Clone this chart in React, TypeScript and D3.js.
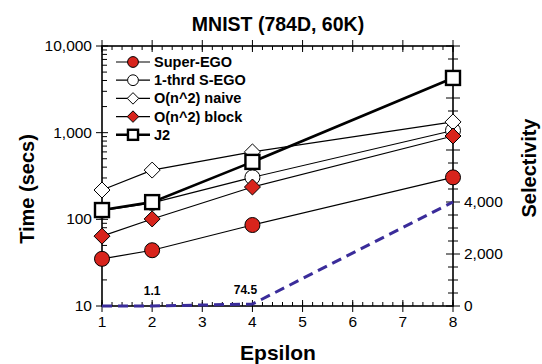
import * as d3 from "d3";

const width = 542;
const height = 364;
const margin = { top: 46, right: 89, bottom: 58, left: 102 };

// data
const epsilon = [1, 2, 4, 8];
const superEgo = [35, 44, 86, 305];
const sEgo1 = [126, 155, 305, 1060];
const naive = [218, 370, 600, 1330];
const block = [64, 101, 236, 915];
const j2 = [128, 158, 460, 4280];
const selectivity = [0, 1.1, 74.5, 4000];
const selLabels = ["1.1", "74.5"];

const red = "#d8241c";
const blue = "#3a2c9a";
const font = "'Liberation Sans', Arial, sans-serif";

type Series = { name: string; values: number[]; marker: string; fill: string; lw: number };

const series: Series[] = [
  { name: "Super-EGO", values: superEgo, marker: "circle", fill: red, lw: 1.2 },
  { name: "1-thrd S-EGO", values: sEgo1, marker: "circle", fill: "#fff", lw: 1.2 },
  { name: "O(n^2) naive", values: naive, marker: "diamond", fill: "#fff", lw: 1.2 },
  { name: "O(n^2) block", values: block, marker: "diamond", fill: red, lw: 1.2 },
  { name: "J2", values: j2, marker: "square", fill: "#fff", lw: 2.6 },
];

const Marker = ({ type, x, y, fill, s = 1 }: { type: string; x: number; y: number; fill: string; s?: number }) => {
  if (type === "circle")
    return <circle cx={x} cy={y} r={7.5 * s} fill={fill} stroke="#000" strokeWidth={1} />;
  if (type === "diamond") {
    const h = 8 * s;
    return (
      <path
        d={`M${x},${y - h}L${x + h},${y}L${x},${y + h}L${x - h},${y}Z`}
        fill={fill}
        stroke="#000"
        strokeWidth={1}
      />
    );
  }
  const h = 7 * s;
  return <rect x={x - h} y={y - h} width={2 * h} height={2 * h} fill={fill} stroke="#000" strokeWidth={2.4} />;
};

const App = () => {
  const x = d3.scaleLinear().domain([1, 8]).range([margin.left, width - margin.right]);
  const y = d3.scaleLog().domain([10, 10000]).range([height - margin.bottom, margin.top]);
  const y2 = d3.scaleLinear().domain([0, 10000]).range([height - margin.bottom, margin.top]);
  const [x0, x1] = x.range();
  const [yb, yt] = y.range();

  const line = d3
    .line<number>()
    .x((_, i) => x(epsilon[i]))
    .y((d) => y(d));
  const selLine = d3
    .line<number>()
    .x((_, i) => x(epsilon[i]))
    .y((d) => y2(d));

  const xMinor = d3.range(1, 8.001, 0.2);
  const xMajor = x.ticks(7);
  const yMajor = [10, 100, 1000, 10000];
  const yMinor = y.ticks().filter((v) => !yMajor.includes(v));
  const y2Major = d3.range(0, 10001, 2000);
  const y2Minor = d3.range(0, 10001, 500).filter((v) => v % 2000 !== 0);

  return (
    <svg width={width} height={height} style={{ position: "absolute", left: 0, top: 0 }} fontFamily={font}>
      <text x={278} y={31} textAnchor="middle" fontSize={19.5} fontWeight="bold">
        MNIST (784D, 60K)
      </text>

      {/* bottom & top ticks */}
      {xMinor.map((v, i) => (
        <g key={"xm" + i}>
          <line x1={x(v)} x2={x(v)} y1={yb} y2={yb - 4} stroke="#000" />
          <line x1={x(v)} x2={x(v)} y1={yt} y2={yt + 4} stroke="#000" />
        </g>
      ))}
      {xMajor.map((v) => (
        <g key={"xM" + v}>
          <line x1={x(v)} x2={x(v)} y1={yb - 6} y2={yb + 6} stroke="#000" />
          <line x1={x(v)} x2={x(v)} y1={yt - 6} y2={yt + 6} stroke="#000" />
          <text x={x(v)} y={yb + 21} textAnchor="middle" fontSize={15.5}>
            {v}
          </text>
        </g>
      ))}

      {/* left ticks */}
      {yMinor.map((v, i) => (
        <line key={"ym" + i} x1={x0} x2={x0 + 5} y1={y(v)} y2={y(v)} stroke="#000" />
      ))}
      {yMajor.map((v) => (
        <g key={"yM" + v}>
          <line x1={x0 - 6} x2={x0 + 6} y1={y(v)} y2={y(v)} stroke="#000" />
          <text x={x0 - 10} y={y(v) + 5} textAnchor="end" fontSize={15.5}>
            {d3.format(",")(v)}
          </text>
        </g>
      ))}

      {/* right ticks */}
      {y2Minor.map((v) => (
        <line key={"rm" + v} x1={x1 - 5} x2={x1 + 5} y1={y2(v)} y2={y2(v)} stroke="#000" />
      ))}
      {y2Major.map((v) => (
        <g key={"rM" + v}>
          <line x1={x1 - 7} x2={x1 + 7} y1={y2(v)} y2={y2(v)} stroke="#000" />
          {v <= 4000 && (
            <text x={x1 + 11} y={y2(v) + 5} fontSize={15.5}>
              {d3.format(",")(v)}
            </text>
          )}
        </g>
      ))}

      <rect x={x0} y={yt} width={x1 - x0} height={yb - yt} fill="none" stroke="#000" strokeWidth={1.6} />

      {/* selectivity */}
      <path d={selLine(selectivity) ?? ""} fill="none" stroke={blue} strokeWidth={3} strokeDasharray="10,6" />
      <text x={x(2)} y={295} textAnchor="middle" fontSize={12} fontWeight="bold">
        {selLabels[0]}
      </text>
      <text x={x(4) - 7} y={294} textAnchor="middle" fontSize={12} fontWeight="bold">
        {selLabels[1]}
      </text>

      {series.map((s) => (
        <g key={s.name}>
          <path d={line(s.values) ?? ""} fill="none" stroke="#000" strokeWidth={s.lw} />
          {s.values.map((v, i) => (
            <Marker key={i} type={s.marker} x={x(epsilon[i])} y={y(v)} fill={s.fill} />
          ))}
        </g>
      ))}

      {/* legend */}
      {series.map((s, i) => {
        const ly = 62 + i * 18.2;
        return (
          <g key={"lg" + s.name}>
            <line x1={116} x2={150} y1={ly} y2={ly} stroke="#000" strokeWidth={s.lw} />
            <Marker type={s.marker} x={133} y={ly} fill={s.fill} s={0.72} />
            <text x={154} y={ly + 5} fontSize={14.5} fontWeight="bold">
              {s.name}
            </text>
          </g>
        );
      })}

      <text
        transform={`translate(34, 189) rotate(-90)`}
        textAnchor="middle"
        fontSize={20}
        fontWeight="bold"
      >
        Time (secs)
      </text>
      <text
        transform={`translate(536, 168) rotate(-90)`}
        textAnchor="middle"
        fontSize={20}
        fontWeight="bold"
      >
        Selectivity
      </text>
      <text x={278} y={360} textAnchor="middle" fontSize={21} fontWeight="bold">
        Epsilon
      </text>
    </svg>
  );
};

export default App;
